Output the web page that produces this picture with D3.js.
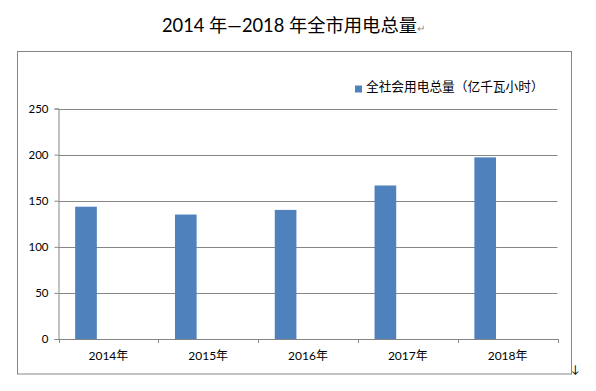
<!DOCTYPE html>
<html><head><meta charset="utf-8">
<script src="https://cdn.jsdelivr.net/npm/d3@7"></script>
<style>body{margin:0;background:#fff;}svg{display:block;}</style>
</head><body>
<script>
const categories = ["2014年","2015年","2016年","2017年","2018年"];
const values = [143.5, 135, 140, 166.5, 197];
const yTicks = [0, 50, 100, 150, 200, 250];
const seriesName = "全社会用电总量（亿千瓦小时）";
const titleText = "2014 年—2018 年全市用电总量";

const W = 596, H = 391;
const svg = d3.select("body").append("svg").attr("width", W).attr("height", H);
const font = "Lato, 'Noto Sans CJK SC', sans-serif";
const gridColor = "#868686";

// title
const t = svg.append("text").attr("x", 162).attr("y", 32)
  .attr("font-family", font).attr("font-size", 18.3).attr("fill", "#000");
t.append("tspan").text(titleText);
t.append("tspan").attr("font-size", 10).attr("fill", "#888").text("↵");

// outer chart border
svg.append("rect").attr("x", 17.5).attr("y", 51.5).attr("width", 554).attr("height", 322.5)
  .attr("fill", "none").attr("stroke", gridColor).attr("stroke-width", 1);

const plot = {left: 58.5, right: 557.5, top: 108.5, bottom: 339};
const x = d3.scaleBand().domain(categories).range([plot.left, plot.right]);
const y = d3.scaleLinear().domain([0, 250]).range([plot.bottom, plot.top]);

// gridlines
svg.append("g").selectAll("line").data(yTicks.filter(d => d > 0)).join("line")
  .attr("x1", plot.left).attr("x2", plot.right)
  .attr("y1", d => Math.round(y(d)) + 0.5).attr("y2", d => Math.round(y(d)) + 0.5)
  .attr("stroke", gridColor).attr("stroke-width", 1);

// y axis
const yAxis = d3.axisLeft(y).tickValues(yTicks).tickSize(4).tickPadding(6);
const gy = svg.append("g").attr("transform", `translate(${plot.left},0)`).call(yAxis);
gy.select(".domain").attr("stroke", gridColor);
gy.selectAll(".tick line").attr("stroke", gridColor);
gy.selectAll(".tick text").attr("font-family", font).attr("font-size", 11.5).attr("fill", "#000");

// bars
const bw = x.bandwidth();
svg.append("g").selectAll("rect").data(values).join("rect")
  .attr("x", (d, i) => x(categories[i]) + bw * 0.167)
  .attr("width", bw * 0.217)
  .attr("y", d => y(d))
  .attr("height", d => plot.bottom - y(d))
  .attr("fill", "#4F81BD");

// x axis
const xAxis = d3.axisBottom(x).tickSize(0).tickPadding(12);
const gx = svg.append("g").attr("transform", `translate(0,${plot.bottom})`).call(xAxis);
gx.select(".domain").attr("stroke", gridColor);
gx.selectAll(".tick text").attr("font-family", font).attr("font-size", 12).attr("fill", "#000");
// boundary tick marks
const bounds = categories.map(c => x(c)).concat([plot.right]);
svg.append("g").selectAll("line").data(bounds).join("line")
  .attr("x1", d => Math.round(d) + 0.5).attr("x2", d => Math.round(d) + 0.5)
  .attr("y1", plot.bottom).attr("y2", plot.bottom + 4)
  .attr("stroke", gridColor);

// legend
svg.append("rect").attr("x", 355).attr("y", 85.5).attr("width", 7).attr("height", 7).attr("fill", "#4F81BD");
svg.append("text").attr("x", 366).attr("y", 91).attr("font-family", font).attr("font-size", 12.7)
  .attr("fill", "#000").text(seriesName);

// paragraph mark at bottom right
svg.append("text").attr("x", 571).attr("y", 373).attr("font-family", font).attr("font-size", 11)
  .attr("fill", "#000").text("↓");
</script>
</body></html>
